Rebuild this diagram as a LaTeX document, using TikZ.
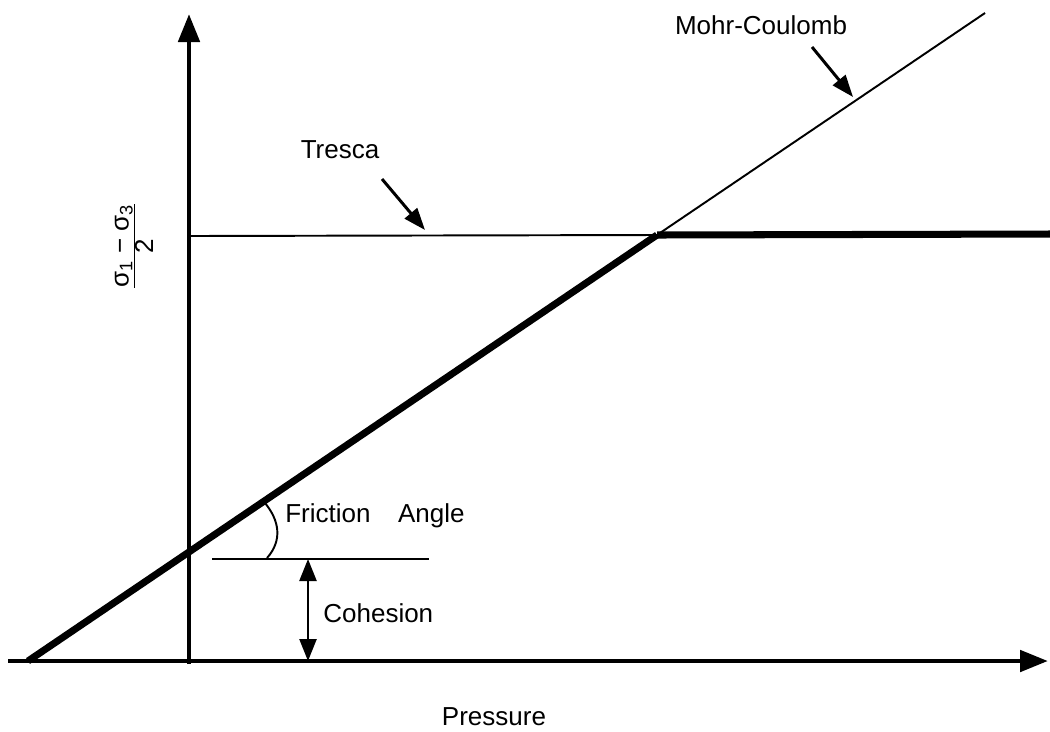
\documentclass[tikz,border=0pt]{standalone}
\usepackage{fontspec}
\setmainfont{Liberation Sans}
\usetikzlibrary{arrows.meta,positioning}
\tikzset{
  axis/.style={line width=2.8pt, -{Triangle[length=0.56cm,width=0.42cm]}},
  thickline/.style={line width=4pt},
  thinline/.style={line width=1.1pt},
  pointer/.style={line width=1.7pt, -{Triangle[length=0.44cm,width=0.32cm]}},
  lbl/.style={font=\fontsize{14.8}{17}\selectfont, inner sep=0pt}
}
\begin{document}
\begin{tikzpicture}[x=0.02cm, y=-0.02cm]
  \useasboundingbox (0,0) rectangle (1050,731);

  %--- Key points ---
  \coordinate (xstart) at (8,661);
  \coordinate (xend) at (1048,661);
  \coordinate (ybot) at (189,664);
  \coordinate (ytop) at (189,14);
  \coordinate (mc0) at (28,661);
  \coordinate (yield) at (657,235);
  \coordinate (mc1) at (985,13);
  \coordinate (tr0) at (189,236);
  \coordinate (tr1) at (1050,234);
  \coordinate (fr0) at (212,559);
  \coordinate (fr1) at (429,559);
  \coordinate (coh0) at (308,559);
  \coordinate (coh1) at (308,661);

  %--- Axes ---
  \draw[axis] (xstart) -- (xend);
  \draw[axis] (ybot) -- (ytop);

  %--- Yield lines ---
  \draw[thickline] (mc0) -- (yield);
  \draw[thinline] (yield) -- (mc1);
  \draw[thinline] (tr0) -- (yield);
  \draw[thickline] (yield) -- (tr1);

  %--- Cohesion and friction angle ---
  \draw[thinline] (fr0) -- (fr1);
  \draw[line width=1.4pt, {Triangle[length=0.44cm,width=0.34cm]}-{Triangle[length=0.44cm,width=0.34cm]}] (coh0) -- (coh1);
  \draw[line width=1.1pt] (267,558) .. controls (283,540) and (279,520) .. (265,503);

  %--- Labels ---
  \node[lbl] (tresca) at (340,150) {Tresca};
  \node[lbl] (mohr) at (761,25) {Mohr-Coulomb};
  \node[lbl, anchor=west] (friction) at (285,516) {Friction\hspace{0.55cm}Angle};
  \node[lbl, anchor=west] (cohesion) at (323,613) {Cohesion};
  \node[lbl] (pressure) at (494,717) {Pressure};
  \node[lbl, rotate=90] (shear) at (134,246)
    {$\frac{\mbox{σ\textsubscript{1} − σ\textsubscript{3}}}{\mbox{2}}$};

  % Pointers to the lines
  \coordinate (trtip) at (425,230);
  \coordinate (mctip) at (853,97);
  \draw[pointer] (382,179) -- (trtip);
  \draw[pointer] (812,47) -- (mctip);
\end{tikzpicture}
\end{document}
